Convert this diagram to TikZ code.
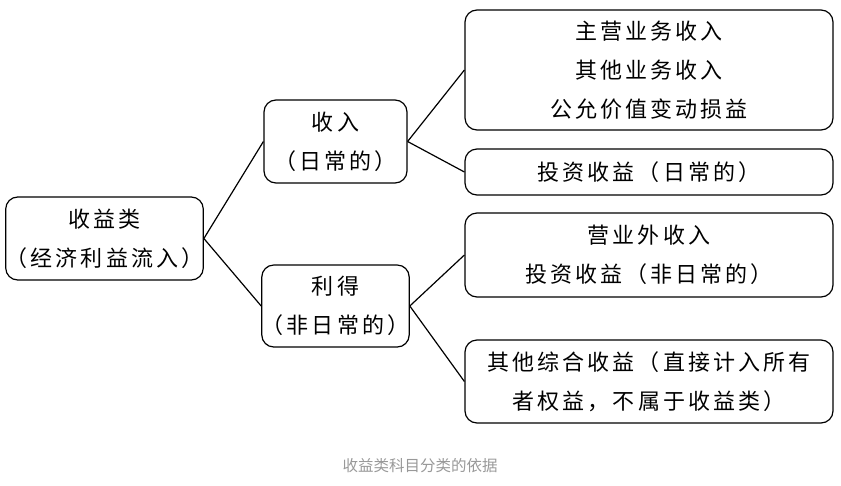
\documentclass[tikz,border=0pt]{standalone}
\usepackage{fontspec}
\newfontfamily\cjk[LetterSpace=14]{Noto Sans CJK SC}
\newfontfamily\cjkcap{Noto Sans CJK SC}
\usetikzlibrary{shapes}
\definecolor{capgray}{HTML}{999999}
\tikzstyle{tree}=[every node/.style={draw=black, rounded corners=12pt,
                line width=1.2pt, align=center, inner sep=0pt, text=black,
                font=\cjk\fontsize{22}{39}\selectfont}, x=1pt, y=-1pt]
\tikzstyle{link}=[line width=1.2pt, draw=black]
\tikzstyle{caption}=[draw=none, text=capgray, font=\cjkcap\fontsize{15.5}{18}\selectfont]

\begin{document}
\begin{tikzpicture}[tree]
\path[use as bounding box] (0,0) rectangle (841,485);
\node[minimum width=195pt, minimum height=83pt] (root) at (104.5,238.5) {收益类\\（经济利益流入）};
\node[minimum width=143pt, minimum height=83pt] (inc) at (335.5,141.5) {收入\\（日常的）};
\node[minimum width=143pt, minimum height=82pt] (gain) at (335.5,306) {利得\\（非日常的）};
\node[minimum width=368pt, minimum height=120pt] (inca) at (649,70) {主营业务收入\\其他业务收入\\公允价值变动损益};
\node[minimum width=368pt, minimum height=46pt] (incb) at (649,172) {投资收益（日常的）};
\node[minimum width=368pt, minimum height=84pt] (gaina) at (649,255) {营业外收入\\投资收益（非日常的）};
\node[minimum width=368pt, minimum height=83pt] (gainb) at (649,381.5) {其他综合收益（直接计入所有\\者权益，不属于收益类）};
\node[caption] (cap) at (420,466) {收益类科目分类的依据};
\path[link]
  (root.east) edge (inc.west)
  (root.east) edge (gain.west)
  (inc.east) edge (inca.west)
  (inc.east) edge (incb.west)
  (gain.east) edge (gaina.west)
  (gain.east) edge (gainb.west);
\end{tikzpicture}
\end{document}
